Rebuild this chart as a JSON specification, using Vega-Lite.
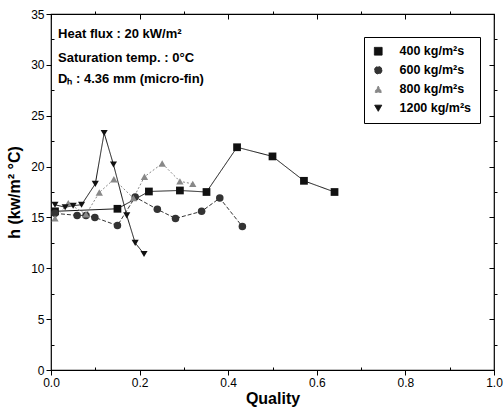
{
  "$schema": "https://vega.github.io/schema/vega-lite/v6.json",
  "width": 443,
  "height": 356,
  "autosize": {"type": "none"},
  "padding": {"left": 51, "top": 14, "right": 9, "bottom": 39},
  "background": "white",
  "config": {
    "view": {"stroke": "black", "strokeWidth": 1.2},
    "font": "Liberation Sans",
    "axis": {"domainColor": "black", "tickColor": "black", "labelColor": "black", "titleColor": "black", "labelFont": "Liberation Sans", "titleFont": "Liberation Sans", "grid": false, "labelFlush": false}
  },
  "datasets": {
    "pts": [
      {"series": "400 kg/m²s", "x": 0.009, "h": 15.6},
      {"series": "400 kg/m²s", "x": 0.15, "h": 15.85},
      {"series": "400 kg/m²s", "x": 0.221, "h": 17.55},
      {"series": "400 kg/m²s", "x": 0.291, "h": 17.65},
      {"series": "400 kg/m²s", "x": 0.351, "h": 17.5},
      {"series": "400 kg/m²s", "x": 0.42, "h": 21.9},
      {"series": "400 kg/m²s", "x": 0.5, "h": 21.0},
      {"series": "400 kg/m²s", "x": 0.571, "h": 18.6},
      {"series": "400 kg/m²s", "x": 0.64, "h": 17.5},
      {"series": "600 kg/m²s", "x": 0.009, "h": 15.4},
      {"series": "600 kg/m²s", "x": 0.059, "h": 15.2},
      {"series": "600 kg/m²s", "x": 0.079, "h": 15.2},
      {"series": "600 kg/m²s", "x": 0.099, "h": 15.0},
      {"series": "600 kg/m²s", "x": 0.15, "h": 14.2},
      {"series": "600 kg/m²s", "x": 0.19, "h": 17.0},
      {"series": "600 kg/m²s", "x": 0.24, "h": 15.8},
      {"series": "600 kg/m²s", "x": 0.281, "h": 14.9},
      {"series": "600 kg/m²s", "x": 0.34, "h": 15.6},
      {"series": "600 kg/m²s", "x": 0.381, "h": 16.9},
      {"series": "600 kg/m²s", "x": 0.432, "h": 14.1},
      {"series": "800 kg/m²s", "x": 0.009, "h": 14.9},
      {"series": "800 kg/m²s", "x": 0.039, "h": 16.4},
      {"series": "800 kg/m²s", "x": 0.079, "h": 15.3},
      {"series": "800 kg/m²s", "x": 0.109, "h": 17.45},
      {"series": "800 kg/m²s", "x": 0.142, "h": 18.75},
      {"series": "800 kg/m²s", "x": 0.186, "h": 16.9},
      {"series": "800 kg/m²s", "x": 0.211, "h": 19.0},
      {"series": "800 kg/m²s", "x": 0.251, "h": 20.3},
      {"series": "800 kg/m²s", "x": 0.291, "h": 18.55},
      {"series": "800 kg/m²s", "x": 0.32, "h": 18.3},
      {"series": "1200 kg/m²s", "x": 0.009, "h": 16.25},
      {"series": "1200 kg/m²s", "x": 0.032, "h": 16.0},
      {"series": "1200 kg/m²s", "x": 0.05, "h": 16.15},
      {"series": "1200 kg/m²s", "x": 0.069, "h": 16.25},
      {"series": "1200 kg/m²s", "x": 0.1, "h": 18.3},
      {"series": "1200 kg/m²s", "x": 0.12, "h": 23.3},
      {"series": "1200 kg/m²s", "x": 0.141, "h": 20.2},
      {"series": "1200 kg/m²s", "x": 0.171, "h": 15.2},
      {"series": "1200 kg/m²s", "x": 0.19, "h": 12.5},
      {"series": "1200 kg/m²s", "x": 0.21, "h": 11.4}
    ],
    "notes": [
      {"x": 0.016, "h": 32.6, "t": "Heat flux : 20 kW/m²"},
      {"x": 0.016, "h": 30.3, "t": "Saturation temp. : 0°C"},
      {"x": 0.016, "h": 28.25, "t": "Dₕ : 4.36 mm (micro-fin)"}
    ]
  },
  "layer": [
    {
      "data": {"name": "pts"},
      "mark": {"type": "line", "strokeWidth": 1},
      "encoding": {
        "x": {"field": "x", "type": "quantitative", "scale": {"domain": [0, 1], "nice": false},
          "axis": {"orient": "bottom", "title": "Quality", "titleFontSize": 16, "titleFontWeight": "bold", "titlePadding": 2,
            "values": [0, 0.1, 0.2, 0.3, 0.4, 0.5, 0.6, 0.7, 0.8, 0.9, 1.0], "format": ".1f",
            "labelExpr": "round(datum.value*10) % 2 == 0 ? datum.label : ''",
            "tickSize": {"condition": {"test": "round(datum.value*10) % 2 == 0", "value": 5}, "value": -3},
            "labelFontSize": 12, "labelPadding": 2, "domain": false}},
        "y": {"field": "h", "type": "quantitative", "scale": {"domain": [0, 35], "nice": false},
          "axis": {"orient": "left", "title": "h (kw/m² °C)", "titleFontSize": 16, "titleFontWeight": "bold", "titlePadding": 8,
            "values": [0, 2.5, 5, 7.5, 10, 12.5, 15, 17.5, 20, 22.5, 25, 27.5, 30, 32.5, 35],
            "labelExpr": "datum.value % 5 == 0 ? datum.label : ''",
            "tickSize": {"condition": {"test": "datum.value % 5 == 0", "value": 5}, "value": -3},
            "labelFontSize": 12, "labelPadding": 2, "domain": false}},
        "color": {"field": "series", "type": "nominal", "sort": ["400 kg/m²s", "600 kg/m²s", "800 kg/m²s", "1200 kg/m²s"],
          "scale": {"domain": ["400 kg/m²s", "600 kg/m²s", "800 kg/m²s", "1200 kg/m²s"], "range": ["#111111", "#333333", "#888888", "#111111"]},
          "legend": {"orient": "none", "legendX": 313, "legendY": 23, "title": null, "strokeColor": "black", "padding": 8,
            "labelFontSize": 12.5, "labelFontWeight": "bold", "labelFont": "Liberation Sans", "rowPadding": 6, "labelOffset": 15,
            "symbolSize": 60, "symbolStrokeWidth": 1}},
        "strokeDash": {"field": "series", "type": "nominal",
          "scale": {"domain": ["400 kg/m²s", "600 kg/m²s", "800 kg/m²s", "1200 kg/m²s"], "range": [[1, 0], [4, 2], [2, 2], [1, 0]]},
          "legend": null},
        "order": {"field": "x", "type": "quantitative"}
      }
    },
    {
      "data": {"name": "pts"},
      "mark": {"type": "point", "filled": true, "opacity": 1},
      "encoding": {
        "x": {"field": "x", "type": "quantitative",
          "axis": {"orient": "top", "title": null, "labels": false,
            "values": [0, 0.1, 0.2, 0.3, 0.4, 0.5, 0.6, 0.7, 0.8, 0.9, 1.0],
            "tickSize": {"condition": {"test": "round(datum.value*10) % 2 == 0", "value": -5}, "value": 3}, "domain": false}},
        "y": {"field": "h", "type": "quantitative",
          "axis": {"orient": "right", "title": null, "labels": false,
            "values": [0, 2.5, 5, 7.5, 10, 12.5, 15, 17.5, 20, 22.5, 25, 27.5, 30, 32.5, 35],
            "tickSize": {"condition": {"test": "datum.value % 5 == 0", "value": -5}, "value": 3}, "domain": false}},
        "color": {"field": "series", "type": "nominal"},
        "shape": {"field": "series", "type": "nominal",
          "scale": {"domain": ["400 kg/m²s", "600 kg/m²s", "800 kg/m²s", "1200 kg/m²s"], "range": ["square", "circle", "triangle-up", "triangle-down"]}},
        "size": {"field": "series", "type": "nominal",
          "scale": {"domain": ["400 kg/m²s", "600 kg/m²s", "800 kg/m²s", "1200 kg/m²s"], "range": [60, 50, 60, 70]}, "legend": null}
      }
    },
    {
      "data": {"name": "notes"},
      "mark": {"type": "text", "align": "left", "baseline": "alphabetic", "fontSize": 13, "fontWeight": "bold", "font": "Liberation Sans", "color": "black"},
      "encoding": {
        "x": {"field": "x", "type": "quantitative", "axis": null},
        "y": {"field": "h", "type": "quantitative", "axis": null},
        "text": {"field": "t"}
      }
    }
  ],
  "resolve": {"axis": {"x": "independent", "y": "independent"}}
}
